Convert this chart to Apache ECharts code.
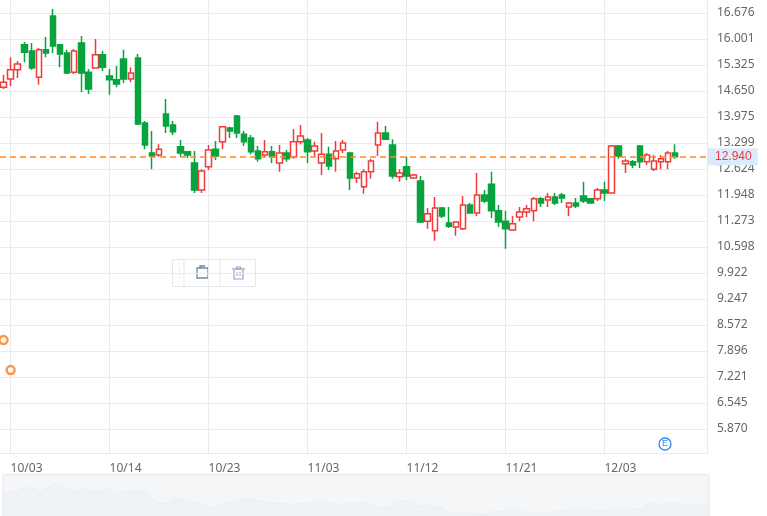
<!DOCTYPE html>
<html>
<head>
<meta charset="utf-8">
<script src="https://cdn.jsdelivr.net/npm/echarts@6/dist/echarts.min.js"></script>
<style>html,body{margin:0;padding:0;background:#fff}#main{width:767px;height:516px}</style>
</head>
<body>
<div id="main"></div>
<script>
// x labels every 14 candles, starting at candle 1
var tickLabels = ['10/03', '10/14', '10/23', '11/03', '11/12', '11/21', '12/03'];
var yTicks = [5.870, 6.545, 7.221, 7.896, 8.572, 9.247, 9.922, 10.598, 11.273, 11.948, 12.624, 13.299, 13.975, 14.650, 15.325, 16.001, 16.676];
var lastPrice = 12.940;

// [open, close, low, high]
var ohlc = [
  [14.75, 14.88, 14.70, 15.07], [14.96, 15.20, 14.78, 15.53], [15.20, 15.35, 14.99, 15.43], [15.85, 15.66, 15.40, 15.92],
  [15.69, 15.25, 15.20, 15.90], [15.01, 15.72, 14.81, 15.77], [15.72, 15.64, 15.53, 16.05], [16.60, 15.82, 15.64, 16.78],
  [15.85, 15.61, 15.27, 15.87], [15.64, 15.12, 15.09, 15.72], [15.14, 15.69, 15.09, 15.74], [15.90, 15.12, 14.62, 16.08],
  [15.14, 14.70, 14.57, 15.22], [15.25, 15.59, 15.25, 16.00], [15.59, 15.27, 15.17, 15.69], [15.04, 14.94, 14.55, 15.22],
  [14.94, 14.83, 14.75, 15.30], [15.48, 14.96, 14.86, 15.72], [14.96, 15.12, 14.88, 15.27], [15.51, 13.79, 13.77, 15.61],
  [13.82, 13.25, 13.14, 13.87], [13.04, 12.96, 12.62, 13.61], [12.99, 13.14, 12.94, 13.27], [14.05, 13.74, 13.56, 14.44],
  [13.77, 13.59, 13.51, 13.87], [13.20, 13.04, 12.94, 13.38], [13.07, 12.99, 12.91, 13.09], [12.78, 12.08, 12.00, 13.09],
  [12.08, 12.57, 12.00, 12.62], [12.68, 13.12, 12.60, 13.25], [13.14, 12.96, 12.86, 13.35], [13.33, 13.72, 13.14, 13.74],
  [13.69, 13.61, 13.43, 13.72], [14.00, 13.56, 13.43, 14.03], [13.53, 13.33, 13.22, 13.61], [13.43, 13.07, 13.01, 13.51],
  [13.09, 12.89, 12.81, 13.22], [12.99, 13.07, 12.94, 13.38], [13.07, 12.94, 12.78, 13.22], [12.78, 13.04, 12.55, 13.25],
  [13.04, 12.89, 12.81, 13.12], [12.94, 13.33, 12.89, 13.66], [13.33, 13.48, 13.27, 13.77], [13.38, 13.07, 12.78, 13.43],
  [13.09, 13.22, 12.96, 13.33], [12.78, 13.01, 12.47, 13.56], [13.01, 12.70, 12.60, 13.20], [12.89, 13.09, 12.55, 13.35],
  [13.12, 13.30, 13.04, 13.38], [13.04, 12.39, 12.08, 13.07], [12.39, 12.50, 12.26, 12.55], [12.16, 12.55, 11.98, 12.62],
  [12.55, 12.83, 12.37, 12.89], [13.25, 13.56, 12.96, 13.85], [13.56, 13.40, 13.38, 13.74], [13.25, 12.44, 12.37, 13.40],
  [12.42, 12.52, 12.29, 12.62], [12.68, 12.44, 12.34, 12.94], [12.39, 12.47, 12.37, 12.50], [12.31, 11.25, 11.22, 12.44],
  [11.27, 11.46, 11.07, 11.61], [11.02, 11.61, 10.76, 11.90], [11.61, 11.40, 11.35, 11.64], [11.22, 11.14, 11.09, 11.64],
  [11.12, 11.25, 10.89, 11.27], [11.07, 11.69, 11.04, 11.92], [11.69, 11.48, 11.46, 11.74], [11.48, 11.95, 11.40, 12.52],
  [11.95, 11.79, 11.74, 12.08], [12.23, 11.54, 11.35, 12.55], [11.54, 11.25, 11.12, 11.69], [11.27, 11.07, 10.55, 11.54],
  [11.04, 11.20, 11.02, 11.40], [11.38, 11.51, 11.27, 11.64], [11.51, 11.59, 11.38, 11.69], [11.54, 11.85, 11.27, 11.90],
  [11.85, 11.74, 11.64, 11.90], [11.82, 11.90, 11.64, 12.00], [11.90, 11.74, 11.69, 12.00], [11.95, 11.87, 11.74, 12.00],
  [11.64, 11.74, 11.40, 11.77], [11.74, 11.66, 11.61, 11.87], [11.92, 11.79, 11.74, 12.29], [11.85, 11.74, 11.72, 11.87],
  [11.85, 12.08, 11.79, 12.13], [12.08, 12.00, 11.79, 12.29], [12.00, 13.22, 11.98, 13.25], [13.22, 12.96, 12.89, 13.25],
  [12.76, 12.83, 12.52, 12.89], [12.81, 12.73, 12.65, 12.86], [13.22, 12.81, 12.65, 13.25], [12.81, 12.99, 12.73, 13.04],
  [12.62, 12.83, 12.57, 12.99], [12.81, 12.89, 12.62, 12.99], [12.81, 13.04, 12.62, 13.09], [13.04, 12.94, 12.89, 13.27]
];
// orange signal markers on the first two candles
var signals = [8.18, 7.40];

var slots = 100;
var categories = [];
for (var i = 0; i < slots; i++) {
  var k = (i - 1) / 14;
  categories.push(i >= 1 && (i - 1) % 14 === 0 && k < tickLabels.length ? tickLabels[k] : 'c' + i);
}
var showTick = function (idx) {
  var k = (idx - 1) / 14;
  return idx >= 1 && (idx - 1) % 14 === 0 && k < tickLabels.length;
};

var chart = echarts.init(document.getElementById('main'));
chart.setOption({
  animation: false,
  grid: { left: 0, right: 60, top: 0, bottom: 63 },
  xAxis: {
    type: 'category',
    data: categories,
    boundaryGap: true,
    axisLine: { lineStyle: { color: '#e6e9ef' } },
    axisTick: { show: false },
    axisLabel: { interval: showTick, align: 'left', color: '#666', fontSize: 12, margin: 10,
      fontFamily: 'Noto Sans' },
    splitLine: { show: false }
  },
  yAxis: {
    type: 'value',
    position: 'right',
    min: 5.247,
    max: 17.014,
    axisLine: { show: true, lineStyle: { color: '#e6e9ef' } },
    axisTick: { show: false, customValues: yTicks },
    axisLabel: { customValues: yTicks, color: '#666', fontSize: 12, margin: 10, fontFamily: 'Noto Sans',
      formatter: function (v) { return v.toFixed(3); } },
    splitLine: { show: true, lineStyle: { color: '#e8ecf2' } }
  },
  dataZoom: [{
    type: 'slider', xAxisIndex: 0, left: 0, right: 60, top: 474, height: 50,
    start: 0, end: 100, borderColor: '#e6e9ef', backgroundColor: '#fff',
    fillerColor: 'rgba(230,234,240,0.45)', handleSize: 0, showDetail: false,
    moveHandleSize: 0,
    dataBackground: { lineStyle: { color: '#e3e7ee' }, areaStyle: { color: '#eef1f5' } },
    selectedDataBackground: { lineStyle: { color: '#e3e7ee' }, areaStyle: { color: '#e8ebf1' } }
  }],
  series: [{
    type: 'candlestick',
    data: ohlc,
    barWidth: 6,
    z: 3,
    itemStyle: {
      color: '#ffffff', color0: '#07a33f',
      borderColor: '#f23a3a', borderColor0: '#07a33f', borderWidth: 1.5
    },
    markLine: {
      symbol: 'none', silent: true,
      lineStyle: { color: '#ff8a1f', type: [6, 4], width: 1.5 },
      label: { position: 'end', formatter: lastPrice.toFixed(3), color: '#f23a3a', fontSize: 12,
        backgroundColor: '#dcebfb', padding: [3, 6, 2, 8], distance: 0 },
      data: [{ yAxis: lastPrice }]
    }
  }, {
    type: 'scatter',
    data: [[0, signals[0]], [1, signals[1]]],
    symbol: 'circle', symbolSize: 8,
    z: 4,
    itemStyle: { color: '#fff', borderColor: '#ff7a1a', borderWidth: 2.5 },
    markLine: {
      symbol: 'none', silent: true, z: 1,
      lineStyle: { color: '#e8ecf2', type: 'solid', width: 1 },
      label: { show: false },
      data: tickLabels.map(function (t) { return { xAxis: t }; })
    }
  }],
  graphic: [
    { type: 'rect', left: 172, top: 259, shape: { width: 83, height: 27 },
      style: { fill: '#fff', stroke: '#e4e6ea', lineWidth: 1 } },
    { type: 'line', shape: { x1: 184, y1: 259, x2: 184, y2: 286 }, style: { stroke: '#e4e6ea' } },
    { type: 'line', shape: { x1: 220, y1: 259, x2: 220, y2: 286 }, style: { stroke: '#e4e6ea' } },
    { type: 'text', left: 175, top: 263, style: { text: '⋮\n⋮', fill: '#d8dbe0', fontSize: 9, lineHeight: 8 } },
    { type: 'rect', shape: { x: 197, y: 268, width: 11, height: 10 },
      style: { fill: 'none', stroke: '#6b8bb0', lineWidth: 1.3 } },
    { type: 'polyline', shape: { points: [[200, 268], [200, 266], [205, 266]] },
      style: { fill: 'none', stroke: '#6b8bb0', lineWidth: 1.3 } },
    { type: 'polyline', shape: { points: [[234, 270], [234, 279], [243, 279], [243, 270]] },
      style: { fill: 'none', stroke: '#8fa4bf', lineWidth: 1.2 } },
    { type: 'line', shape: { x1: 232, y1: 269, x2: 245, y2: 269 }, style: { stroke: '#8fa4bf', lineWidth: 1.2 } },
    { type: 'rect', shape: { x: 236, y: 267, width: 5, height: 2 }, style: { fill: 'none', stroke: '#8fa4bf' } },
    { type: 'line', shape: { x1: 237, y1: 272, x2: 237, y2: 276 }, style: { stroke: '#8fa4bf' } },
    { type: 'line', shape: { x1: 240, y1: 272, x2: 240, y2: 276 }, style: { stroke: '#8fa4bf' } },
    { type: 'circle', shape: { cx: 665, cy: 444, r: 6 }, style: { fill: '#fff', stroke: '#2e8cf0', lineWidth: 1.3 } },
    { type: 'text', x: 665, y: 444, style: { text: 'E', fill: '#2e8cf0', fontSize: 9, align: 'center', verticalAlign: 'middle' } },
    { type: 'text', left: 12, top: 508, style: { text: '2024', fill: '#888', fontSize: 11 } },
    { type: 'text', left: 368, top: 508, style: { text: '2025', fill: '#888', fontSize: 11 } }
  ]
});
</script>
</body>
</html>
